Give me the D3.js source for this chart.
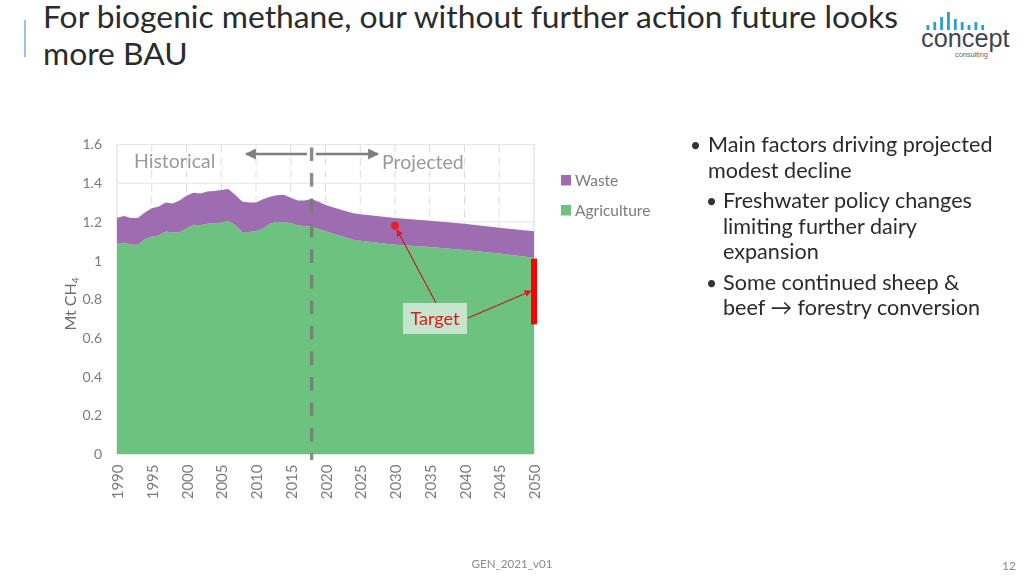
<!DOCTYPE html>
<html>
<head>
<meta charset="utf-8">
<script src="https://cdn.jsdelivr.net/npm/d3@7"></script>
<style>
	html, body { margin: 0; padding: 0; background: #fff; }
	svg { display: block; font-family: Lato, "Open Sans", sans-serif; }
	.domain { display: none; }
	.tick line { display: none; }
	.tick text { fill: #7b7b7b; font-size: 14px; font-family: Lato, sans-serif; }
</style>
</head>
<body>
<svg id="slide" width="1024" height="576"></svg>
<script>
var years = [1990, 1991, 1992, 1993, 1994, 1995, 1996, 1997, 1998, 1999,
	2000, 2001, 2002, 2003, 2004, 2005, 2006, 2007, 2008, 2009,
	2010, 2011, 2012, 2013, 2014, 2015, 2016, 2017, 2018, 2019,
	2020, 2022, 2024, 2025, 2030, 2035, 2040, 2045, 2050];

var agriculture = [1.087, 1.092, 1.082, 1.082, 1.110, 1.123, 1.130, 1.150, 1.145, 1.146,
	1.166, 1.185, 1.183, 1.190, 1.193, 1.196, 1.205, 1.183, 1.148, 1.148,
	1.153, 1.166, 1.190, 1.200, 1.200, 1.193, 1.182, 1.178, 1.175, 1.163,
	1.152, 1.130, 1.108, 1.102, 1.082, 1.070, 1.054, 1.036, 1.015];

var waste = [0.134, 0.138, 0.138, 0.138, 0.138, 0.147, 0.150, 0.150, 0.150, 0.164,
	0.169, 0.165, 0.164, 0.167, 0.167, 0.169, 0.165, 0.157, 0.157, 0.152,
	0.147, 0.151, 0.140, 0.137, 0.140, 0.132, 0.128, 0.132, 0.143, 0.141,
	0.135, 0.135, 0.137, 0.138, 0.138, 0.136, 0.136, 0.134, 0.137];

var yTicks = [0, 0.2, 0.4, 0.6, 0.8, 1, 1.2, 1.4, 1.6];
var xTicks = [1990, 1995, 2000, 2005, 2010, 2015, 2020, 2025, 2030, 2035, 2040, 2045, 2050];
var legendNames = ['Waste', 'Agriculture'];
var titleLines = ['For biogenic methane, our without further action future looks', 'more BAU'];
var dividerYear = 2018;
var targetYear = 2030;
var targetPoint = 1.18;
var targetRange = [0.67, 1.01];
var logoBars = [5, 8, 13, 18, 11, 8, 5, 8, 5];

var svg = d3.select('#slide');

var defs = svg.append('defs');
defs.append('filter').attr('id', 'soft')
	.append('feGaussianBlur').attr('stdDeviation', 0.45);
function addArrowHead(id, color, w, h) {
	defs.append('marker').attr('id', id)
		.attr('viewBox', '0 0 10 10').attr('refX', 9).attr('refY', 5)
		.attr('markerUnits', 'userSpaceOnUse')
		.attr('markerWidth', w).attr('markerHeight', h)
		.attr('orient', 'auto')
		.append('path').attr('d', 'M0,0L10,5L0,10Z').attr('fill', color);
}
addArrowHead('headRed', '#e8161c', 7, 7);
addArrowHead('headGrey', '#7f7f7f', 11, 11);

// slide furniture
svg.append('line').attr('x1', 25).attr('x2', 25).attr('y1', 20).attr('y2', 57)
	.attr('stroke', '#5b9bd5').attr('stroke-width', 1.2);

svg.selectAll('.title').data(titleLines).enter().append('text')
	.attr('class', 'title')
	.attr('x', 43)
	.attr('y', function (d, i) { return 28 + i * 37; })
	.attr('font-size', 31.8)
	.attr('fill', '#2b2b2b')
	.text(function (d) { return d; });

// logo
var logo = svg.append('g');
logo.selectAll('rect').data(logoBars).enter().append('rect')
	.attr('x', function (d, i) { return 926.5 + i * 6.85; })
	.attr('y', function (d) { return 30 - d; })
	.attr('width', 2.8)
	.attr('height', function (d) { return d; })
	.attr('fill', '#2a9fd0');
logo.append('text').attr('x', 921).attr('y', 47)
	.attr('font-family', '"Liberation Sans", sans-serif')
	.attr('font-size', 25.3).attr('fill', '#3c4652').text('concept');
logo.append('text').attr('x', 955).attr('y', 57)
	.attr('font-family', '"Liberation Sans", sans-serif')
	.attr('font-size', 7.3).attr('fill', '#666').text('consulting');

// chart
var chart = svg.append('g').attr('filter', 'url(#soft)');

var x = d3.scaleLinear().domain([1990, 2050]).range([117, 534]);
var y = d3.scaleLinear().domain([0, 1.6]).range([454, 144.5]);

chart.append('rect')
	.attr('x', x(1990)).attr('y', y(1.6))
	.attr('width', x(2050) - x(1990)).attr('height', y(0) - y(1.6))
	.attr('fill', '#fff').attr('stroke', '#d9d9d9');

chart.selectAll('.hgrid').data(yTicks).enter().append('line')
	.attr('class', 'hgrid')
	.attr('x1', x(1990)).attr('x2', x(2050))
	.attr('y1', function (d) { return y(d); })
	.attr('y2', function (d) { return y(d); })
	.attr('stroke', '#e6e6e6');

chart.selectAll('.vgrid').data(xTicks.slice(1, -1)).enter().append('line')
	.attr('class', 'vgrid')
	.attr('x1', function (d) { return x(d); })
	.attr('x2', function (d) { return x(d); })
	.attr('y1', y(1.6)).attr('y2', y(0))
	.attr('stroke', '#dcdcdc')
	.attr('stroke-dasharray', '8, 5');

var rows = years.map(function (yr, i) {
	return { year: yr, Agriculture: agriculture[i], Waste: waste[i] };
});
var stacked = d3.stack().keys(['Agriculture', 'Waste'])(rows);
var colors = { Agriculture: '#6cc27e', Waste: '#9e6cb0' };
var area = d3.area()
	.x(function (d) { return x(d.data.year); })
	.y0(function (d) { return y(d[0]); })
	.y1(function (d) { return y(d[1]); });

chart.selectAll('.layer').data(stacked).enter().append('path')
	.attr('class', 'layer')
	.attr('d', area)
	.attr('fill', function (d) { return colors[d.key]; });

chart.append('g')
	.attr('transform', 'translate(' + x(1990) + ',0)')
	.call(d3.axisLeft(y).tickValues(yTicks).tickSize(0).tickPadding(15)
		.tickFormat(function (d) { return d; }));

chart.append('g')
	.attr('transform', 'translate(0,' + y(0) + ')')
	.call(d3.axisBottom(x).tickValues(xTicks).tickSize(0).tickFormat(d3.format('d')))
	.selectAll('text')
	.attr('text-anchor', 'end')
	.attr('dy', 0)
	.style('font-size', '15px')
	.attr('transform', 'translate(5.5,10.5) rotate(-90)')
	.attr('x', 0).attr('y', 0);

var yLabel = chart.append('text')
	.attr('transform', 'translate(76,304) rotate(-90)')
	.attr('text-anchor', 'middle')
	.attr('font-size', 16)
	.attr('fill', '#6f6f6f')
	.text('Mt CH');
yLabel.append('tspan').attr('font-size', 10).attr('dy', 3).text('4');

// historical / projected divider
chart.append('line')
	.attr('x1', x(dividerYear)).attr('x2', x(dividerYear))
	.attr('y1', 147.5).attr('y2', 460)
	.attr('stroke', '#737b76').attr('stroke-width', 3.4)
	.attr('stroke-opacity', 0.85)
	.attr('stroke-dasharray', '13.5, 12');
chart.append('line')
	.attr('x1', 307).attr('x2', 246).attr('y1', 154).attr('y2', 154)
	.attr('stroke', '#7f7f7f').attr('stroke-width', 2.4)
	.attr('marker-end', 'url(#headGrey)');
chart.append('line')
	.attr('x1', 316).attr('x2', 378).attr('y1', 154).attr('y2', 154)
	.attr('stroke', '#7f7f7f').attr('stroke-width', 2.4)
	.attr('marker-end', 'url(#headGrey)');

chart.append('text').attr('x', 134).attr('y', 168)
	.attr('font-size', 19.5).attr('fill', '#9a9a9a').text('Historical');
chart.append('text').attr('x', 382).attr('y', 169)
	.attr('font-size', 19.5).attr('fill', '#9a9a9a').text('Projected');

// legend
var legend = chart.selectAll('.legend').data(legendNames).enter().append('g')
	.attr('class', 'legend')
	.attr('transform', function (d, i) { return 'translate(561,' + (175 + i * 30) + ')'; });
legend.append('rect').attr('width', 10).attr('height', 10.5)
	.attr('fill', function (d) { return colors[d]; });
legend.append('text').attr('x', 14).attr('y', 10.5)
	.attr('font-size', 15.5).attr('fill', '#7b7b7b')
	.text(function (d) { return d; });

// target annotation
svg.append('rect')
	.attr('x', x(2050) - 3).attr('width', 6)
	.attr('y', y(targetRange[1])).attr('height', y(targetRange[0]) - y(targetRange[1]))
	.attr('fill', '#fe0000');
svg.append('circle')
	.attr('cx', x(targetYear)).attr('cy', y(targetPoint)).attr('r', 4)
	.attr('fill', '#ee1c25');
svg.append('rect')
	.attr('x', 403).attr('y', 303).attr('width', 64).attr('height', 31)
	.attr('fill', '#c5e6cc');
svg.append('text')
	.attr('x', 435).attr('y', 325)
	.attr('text-anchor', 'middle')
	.attr('font-size', 18).attr('fill', '#e8161c')
	.text('Target');
svg.append('line')
	.attr('x1', 436).attr('y1', 303).attr('x2', x(targetYear) + 2).attr('y2', y(targetPoint) + 4)
	.attr('stroke', '#c8161c').attr('stroke-width', 1.1)
	.attr('marker-end', 'url(#headRed)');
svg.append('line')
	.attr('x1', 468).attr('y1', 318).attr('x2', x(2050) - 3).attr('y2', 291)
	.attr('stroke', '#c8161c').attr('stroke-width', 1.1)
	.attr('marker-end', 'url(#headRed)');

// bullets
var bullets = [
	{ x: 690, tx: 708, y: 152, lines: ['Main factors driving projected', 'modest decline'] },
	{ x: 706, tx: 723, y: 208, lines: ['Freshwater policy changes', 'limiting further dairy', 'expansion'] },
	{ x: 706, tx: 723, y: 289.5, lines: ['Some continued sheep &', 'beef \u2192 forestry conversion'] }
];
bullets.forEach(function (b) {
	svg.append('text').attr('x', b.x).attr('y', b.y)
		.attr('font-size', 19).attr('fill', '#333').text('\u2022');
	b.lines.forEach(function (line, i) {
		svg.append('text').attr('x', b.tx).attr('y', b.y + i * 25.7)
			.attr('font-size', 21.6).attr('fill', '#2b2b2b').text(line);
	});
});

// footer
svg.append('text').attr('x', 512).attr('y', 568).attr('text-anchor', 'middle')
	.attr('font-size', 11.6).attr('fill', '#8a8a8a').text('GEN_2021_v01');
svg.append('text').attr('x', 1016).attr('y', 570).attr('text-anchor', 'end')
	.attr('font-size', 12).attr('fill', '#8a8a8a').text('12');
</script>
</body>
</html>
